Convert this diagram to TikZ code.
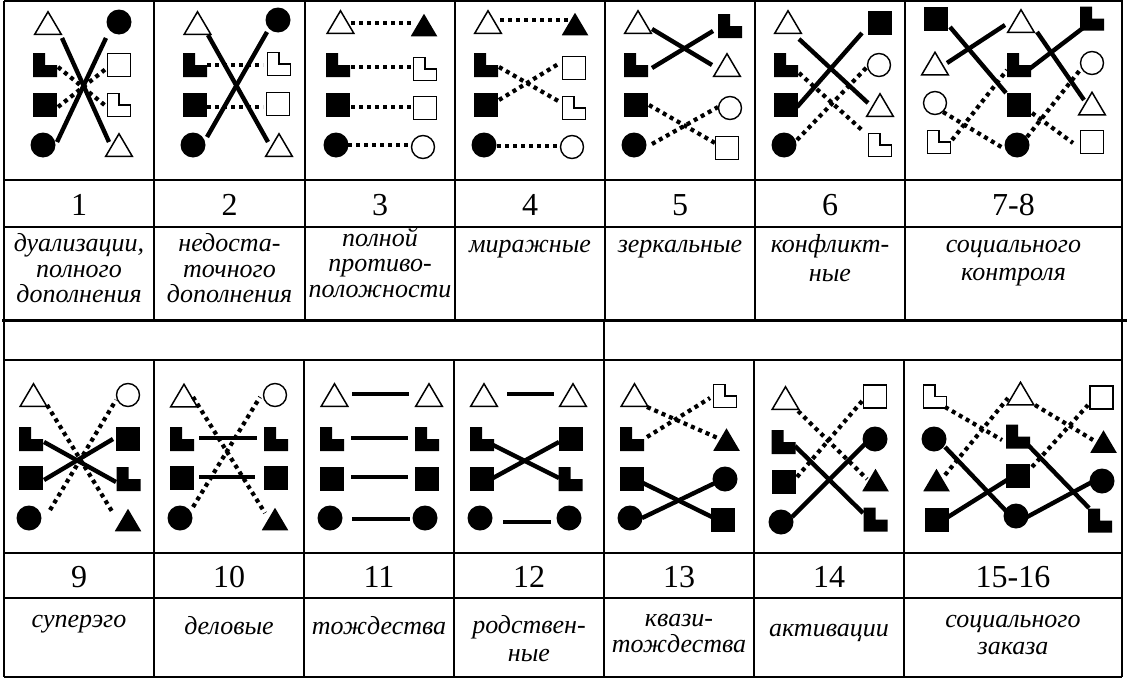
\documentclass[tikz,border=0pt]{standalone}
\usepackage{fontspec}
\setmainfont{Liberation Serif}
\usetikzlibrary{calc}
\tikzset{
 box/.style={rectangle, minimum size=24pt, inner sep=0pt, outer sep=0pt},
 obox/.style={rectangle, minimum size=22.7pt, inner sep=0pt, outer sep=0pt},
 tbox/.style={rectangle, minimum width=26.5pt, minimum height=22.5pt, inner sep=0pt, outer sep=0pt},
 fc/.style={circle, fill=black, minimum size=25pt, inner sep=0pt},
 oc/.style={circle, draw=black, line width=1.4pt, fill=white, minimum size=23pt, inner sep=0pt},
 fs/.style={rectangle, fill=black, minimum size=24pt, inner sep=0pt},
 os/.style={rectangle, draw=black, line width=1.4pt, fill=white, minimum size=22.7pt, inner sep=0pt},
 sol/.style={line width=4.4pt},
 dot/.style={line width=4.2pt, dash pattern=on 4pt off 4pt},
 grid/.style={line width=1.6pt},
 lab/.style={font=\itshape\fontsize{26}{25.5}\selectfont, align=center, inner sep=0pt, anchor=north},
 num/.style={font=\fontsize{32}{36}\selectfont, inner sep=0pt, anchor=base},
}
\newcommand\shFC[2]{\node[fc] (#1) at (#2) {};}
\newcommand\shOC[2]{\node[oc] (#1) at (#2) {};}
\newcommand\shFS[2]{\node[fs] (#1) at (#2) {};}
\newcommand\shOS[2]{\node[os] (#1) at (#2) {};}
\newcommand\shFL[2]{\node[box] (#1) at (#2) {};\fill (#1.south west) -- (#1.south east) -- (#1.east) -- (#1.center) -- (#1.north) -- (#1.north west) -- cycle;}
\newcommand\shOL[2]{\node[obox] (#1) at (#2) {};\draw[line width=1.4pt, fill=white] (#1.south west) -- (#1.south east) -- (#1.east) -- (#1.center) -- (#1.north) -- (#1.north west) -- cycle;}
\newcommand\shOT[2]{\node[tbox] (#1) at (#2) {};\draw[line width=1.5pt, fill=white, line join=miter] (#1.south west) -- (#1.south east) -- (#1.north) -- cycle;}
\newcommand\shFT[2]{\node[tbox] (#1) at (#2) {};\fill (#1.south west) -- (#1.south east) -- (#1.north) -- cycle;}
\newcommand\cn[5]{\draw[#1] ($(#2)+(#3)$) -- ($(#4)+(#5)$);}
\begin{document}
\begin{tikzpicture}[x=1pt,y=-1pt]
\useasboundingbox (0,0) rectangle (1127,680);
% ---------- table grid ----------
\draw[grid] (4,1) -- (1123,1);
\foreach \xx in {4,154,305,455,605,755,905,1122} \draw[grid] (\xx,0.5) -- (\xx,320);
\draw[grid] (4,180) -- (1122,180);
\draw[grid] (4,227) -- (1122,227);
\draw[line width=3pt] (2,320) -- (1127,320);
\foreach \xx in {4,604,1122} \draw[grid] (\xx,320) -- (\xx,360);
\draw[grid] (4,360) -- (1122,360);
\foreach \xx in {4,154,304,454,604,754,904,1122} \draw[grid] (\xx,360) -- (\xx,677);
\draw[grid] (4,553) -- (1122,553);
\draw[grid] (4,598) -- (1122,598);
\draw[grid] (4,677) -- (1122,677);
% ---------- cell 1 ----------
\shOT{a1}{48,23} \shFC{b1}{119,22} \shFL{c1}{45,65} \shOS{d1}{119,65}
\shFS{e1}{45,105} \shOL{f1}{119,105} \shFC{g1}{43,145} \shOT{h1}{119,145}
\cn{sol}{a1}{14,15}{h1}{-10,-3}
\cn{sol}{b1}{-13,16}{g1}{14,-3}
\cn{dot}{c1}{13,2}{f1}{-12,2}
\cn{dot}{e1}{13,2}{d1}{-12,3}
% ---------- cell 2 ----------
\shOT{a2}{197.5,23} \shFC{b2}{278,20} \shFL{c2}{195,65} \shOL{d2}{279,64}
\shFS{e2}{195,105} \shOS{f2}{278,104} \shFC{g2}{193,145} \shOT{h2}{279,145}
\cn{sol}{a2}{10.5,12}{h2}{-11,-3}
\cn{sol}{b2}{-11,12}{g2}{14,-8}
\cn{dot}{c2}{12,0}{d2}{-16,1}
\cn{dot}{e2}{12,2}{f2}{-15,3}
% ---------- cell 3 ----------
\shOT{a3}{340.5,22} \shFT{b3}{424,25} \shFL{c3}{338,65} \shOL{d3}{425,69}
\shFS{e3}{338,105} \shOS{f3}{425,108} \shFC{g3}{336,145} \shOC{h3}{423,147}
\cn{dot}{a3}{10.5,1}{b3}{-11,-2}
\cn{dot}{c3}{13,2}{d3}{-12,-2}
\cn{dot}{e3}{13,2}{f3}{-12,-1}
\cn{dot}{g3}{12,0}{h3}{-11,-2}
% ---------- cell 4 ----------
\shOT{a4}{488,22} \shFT{b4}{575,24} \shFL{c4}{486,65} \shOS{d4}{574,68}
\shFS{e4}{486,105} \shOL{f4}{574,108} \shFC{g4}{484,145} \shOC{h4}{572,147}
\cn{dot}{a4}{12,-2}{b4}{-5,-4}
\cn{dot}{c4}{13,2}{f4}{-14,-6}
\cn{dot}{e4}{13,-5}{d4}{-14,-5}
\cn{dot}{g4}{13,1}{h4}{-14,-1}
% ---------- cell 5 ----------
\shOT{a5}{638,22} \shFL{b5}{730,26} \shFL{c5}{636,65} \shOT{d5}{727,65}
\shFS{e5}{636,105} \shOC{f5}{730,108} \shFC{g5}{634,145} \shOS{h5}{727,148}
\cn{sol}{a5}{14,7}{d5}{-15,0}
\cn{sol}{c5}{16,3}{b5}{-17,5}
\cn{dot}{e5}{13,0}{h5}{-12,-5}
\cn{dot}{g5}{18,-1}{f5}{-12,-1}
% ---------- cell 6 ----------
\shOT{a6}{788,22} \shFS{b6}{880,22.5} \shFL{c6}{786,65} \shOC{d6}{879,65}
\shFS{e6}{786,105} \shOT{f6}{880,105} \shFC{g6}{784,145} \shOL{h6}{880,145}
\cn{sol}{a6}{11,17}{f6}{-12,-2}
\cn{sol}{e6}{11,2}{b6}{-18,10.5}
\cn{dot}{c6}{13,8}{h6}{-17,-14}
\cn{dot}{g6}{13,-5}{d6}{-12,2}
% ---------- cell 7-8 ----------
\shFS{a7}{936,18.5} \shOT{b7}{1021,21} \shFL{k7}{1092,18.5}
\shOT{d7}{935,63.5} \shFL{e7}{1019,65} \shOC{f7}{1092,63}
\shOC{g7}{935,103} \shFS{h7}{1019,105} \shOT{i7}{1092,103.5}
\shOL{j7}{939,142} \shFC{m7}{1017,145} \shOS{l7}{1092,142}
\cn{sol}{a7}{14,8.5}{h7}{-13,-12}
\cn{sol}{d7}{12,-0.5}{b7}{-16,4}
\cn{sol}{b7}{16,11}{i7}{-8,-3.5}
\cn{sol}{e7}{9,5}{k7}{-9,9.5}
\cn{dot}{g7}{8,9}{m7}{-14,3}
\cn{dot}{j7}{13,-2}{e7}{-12,5}
\cn{dot}{m7}{10,-8}{f7}{-12,7}
\cn{dot}{h7}{13,8}{l7}{-19,1}
% ---------- cell 9 ----------
\shOT{a9}{33.5,395} \shOC{b9}{128,395} \shFL{c9}{31,439} \shFS{d9}{128,439}
\shFS{e9}{31,478} \shFL{f9}{128.5,479} \shFC{g9}{29,518} \shFT{h9}{128,520}
\cn{sol}{c9}{13,3}{f9}{-12.5,3}
\cn{sol}{e9}{13,2}{d9}{-15,0}
\cn{dot}{a9}{13.5,10}{h9}{-15,-7}
\cn{dot}{g9}{21,-8}{b9}{-12,5}
% ---------- cell 10 ----------
\shOT{a10}{184,395.5} \shOC{b10}{275,395} \shFL{c10}{182,439} \shFL{d10}{276,439}
\shFS{e10}{182,478} \shFS{f10}{276,478} \shFC{g10}{180,518} \shFT{h10}{275,519}
\cn{sol}{c10}{17,-1}{d10}{-19,-1}
\cn{sol}{e10}{17,-1}{f10}{-21,-1}
\cn{dot}{a10}{9,1.5}{h10}{-10,-6}
\cn{dot}{g10}{13,-11}{b10}{-15,2}
% ---------- cell 11 ----------
\shOT{a11}{334.5,395} \shOT{b11}{429,395} \shFL{c11}{332,439} \shFL{d11}{427,439}
\shFS{e11}{332,479} \shFS{f11}{427,479} \shFC{g11}{330,518} \shFC{h11}{425,518}
\cn{sol}{a11}{17.5,-1}{b11}{-20,-1}
\cn{sol}{c11}{19,-1}{d11}{-19,-1}
\cn{sol}{e11}{19,-2}{f11}{-19,-2}
\cn{sol}{g11}{22,1}{h11}{-15,1}
% ---------- cell 12 ----------
\shOT{a12}{484,395} \shOT{b12}{573,395} \shFL{c12}{482,439} \shFS{d12}{570.5,439}
\shFS{e12}{482,479} \shFL{f12}{570.5,479} \shFC{g12}{480,518} \shFC{h12}{569,518}
\cn{sol}{a12}{23,-1}{b12}{-19,-1}
\cn{sol}{c12}{11,6}{f12}{-11.5,-1}
\cn{sol}{e12}{11,-1}{d12}{-11.5,3}
\cn{sol}{g12}{23,4}{h12}{-18,4}
% ---------- cell 13 ----------
\shOT{a13}{634.5,395} \shOL{b13}{725,396} \shFL{c13}{632,439} \shFT{d13}{726.5,439.5}
\shFS{e13}{632,479} \shFC{f13}{725,479} \shFC{g13}{630,518} \shFS{h13}{722.5,519.5}
\cn{dot}{a13}{12.5,12}{d13}{-6.5,-0.5}
\cn{dot}{c13}{15,-2}{b13}{-15,2}
\cn{sol}{e13}{11,4}{h13}{-10.5,-2.5}
\cn{sol}{g13}{12,0}{f13}{-10,4}
% ---------- cell 14 ----------
\shOT{a14}{785.5,398} \shOS{b14}{875,396.5} \shFL{c14}{783.5,442} \shFC{d14}{875,439}
\shFS{e14}{783.5,482} \shFT{f14}{875.5,480} \shFC{g14}{781,522} \shFL{h14}{875.5,519.5}
\cn{dot}{a14}{12.5,13}{f14}{-8.5,-1}
\cn{dot}{e14}{13.5,-5}{b14}{-12,3.5}
\cn{sol}{c14}{11.5,4}{h14}{-12.5,-6.5}
\cn{sol}{g14}{11,-5}{d14}{-8,3}
% ---------- cell 15-16 ----------
\shOL{a15}{935,396.5} \shOT{b15}{1020.5,393.5} \shOS{k15}{1101.5,397.5}
\shFC{d15}{934,439} \shFL{e15}{1018,436.5} \shFT{f15}{1103.5,441.5}
\shFT{g15}{936.5,480} \shFS{h15}{1018,476} \shFC{i15}{1102,481}
\shFS{j15}{936.5,519.5} \shFC{m15}{1016,516} \shFL{l15}{1100,520.5}
\cn{dot}{a15}{10,10.5}{e15}{-16,3.5}
\cn{dot}{g15}{8.5,-5}{b15}{-12.5,4.5}
\cn{dot}{b15}{14.5,11.5}{f15}{-10.5,-1.5}
\cn{dot}{h15}{14,-9}{k15}{-13.5,7.5}
\cn{sol}{d15}{11,8}{m15}{-9,-4}
\cn{sol}{j15}{11.5,-2.5}{h15}{-11,4}
\cn{sol}{m15}{11,1}{i15}{-10,1}
\cn{sol}{e15}{10,8.5}{l15}{-11,-12.5}
% ---------- numbers ----------
\node[num] (n1) at (79,215) {1};
\node[num] (n2) at (229.5,215) {2};
\node[num] (n3) at (380,215) {3};
\node[num] (n4) at (530,215) {4};
\node[num] (n5) at (680,215) {5};
\node[num] (n6) at (830,215) {6};
\node[num] (n7) at (1013.5,215) {7-8};
\node[num] (n9) at (79,587) {9};
\node[num] (n10) at (229,587) {10};
\node[num] (n11) at (379,587) {11};
\node[num] (n12) at (529,587) {12};
\node[num] (n13) at (679,587) {13};
\node[num] (n14) at (829,587) {14};
\node[num] (n15) at (1013,587) {15-16};
% ---------- labels ----------
\node[lab] (l1) at (79,233.5) {\strut дуализации,\\полного\\дополнения};
\node[lab] (l2) at (229.5,233.5) {\strut недоста-\\точного\\дополнения};
\node[lab] (l3) at (380,227.5) {\strut полной\\противо-\\положности};
\node[lab] (l4) at (530,234.5) {\strut миражные};
\node[lab] (l5) at (680,234.5) {\strut зеркальные};
\node[lab, font=\itshape\fontsize{26}{29}\selectfont] (l6) at (830,232) {\strut конфликт-\\ные};
\node[lab, font=\itshape\fontsize{26}{28}\selectfont] (l7) at (1013.5,232.5) {\strut социального\\контроля};
\node[lab] (l9) at (79,609.5) {\strut суперэго};
\node[lab] (l10) at (229,616.5) {\strut деловые};
\node[lab] (l11) at (379,616.5) {\strut тождества};
\node[lab, font=\itshape\fontsize{26}{28}\selectfont] (l12) at (529,614) {\strut родствен-\\ные};
\node[lab, font=\itshape\fontsize{26}{26}\selectfont] (l13) at (679,608.5) {\strut квази-\\тождества};
\node[lab] (l14) at (829,618.5) {\strut активации};
\node[lab, font=\itshape\fontsize{26}{27}\selectfont] (l15) at (1013,608) {\strut социального\\заказа};
\end{tikzpicture}
\end{document}
